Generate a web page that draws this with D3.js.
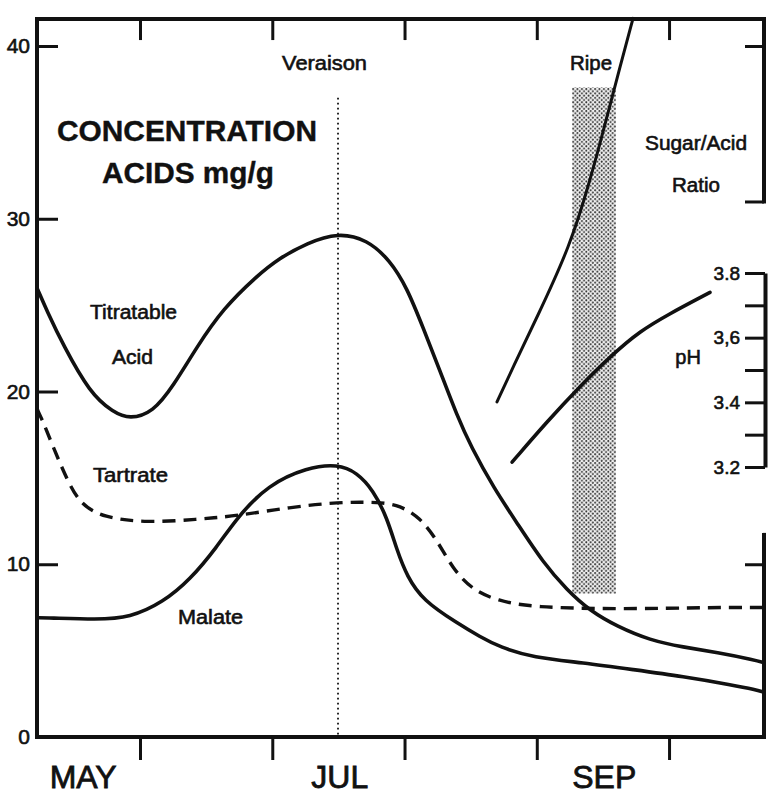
<!DOCTYPE html>
<html><head><meta charset="utf-8">
<script src="https://cdn.jsdelivr.net/npm/d3@7"></script>
<style>
html,body{margin:0;padding:0;background:#fff;}
svg{display:block;font-family:"Liberation Sans",Arial,Helvetica,sans-serif;}
</style></head><body>
<svg id="chart" width="774" height="796"></svg>
<script>
// x unit: months after May 1 (1 = Jun 1, 2 = Jul 1, 3 = Aug 1, 4 = Sep 1, 5 = Oct 1)
const monthTicks = [1, 2, 3, 4, 5];
const monthLabels = ["MAY", "JUL", "SEP"];
const monthLabelPos = [0.57, 2.51, 4.51];

const acidTicks = [0, 10, 20, 30, 40];
const phTicks = [3.2, 3.3, 3.4, 3.5, 3.6, 3.7, 3.8];
const phLabelValues = [3.2, 3.4, 3.6, 3.8];
const phLabelTexts = ["3.2", "3.4", "3,6", "3.8"];

// Titratable acid (mg/g)
const titratableMonth = [0.221, 0.300, 0.418, 0.622, 0.796, 0.924, 1.098, 1.250, 1.431, 1.628, 1.885, 2.050, 2.263, 2.497, 2.716, 2.890, 3.019, 3.140, 3.268, 3.397, 3.503, 3.676, 3.858, 4.047, 4.229, 4.403, 4.607, 4.856, 5.106, 5.363, 5.650, 5.718];
const titratableValue = [26.0, 24.6, 22.7, 19.9, 18.8, 18.4, 18.8, 20.3, 22.6, 24.8, 26.7, 27.7, 28.6, 29.2, 28.8, 27.6, 26.0, 23.7, 21.2, 18.6, 16.8, 14.4, 12.3, 10.1, 8.5, 7.3, 6.4, 5.6, 5.2, 4.9, 4.45, 4.3];

// Tartrate (mg/g)
const tartrateMonth = [0.221, 0.270, 0.342, 0.448, 0.546, 0.720, 1.053, 1.431, 1.733, 2.134, 2.497, 2.815, 2.966, 3.117, 3.246, 3.367, 3.518, 3.699, 3.972, 4.607, 5.363, 5.650, 5.718];
const tartrateValue = [19.0, 18.2, 16.8, 14.9, 13.5, 12.7, 12.4, 12.6, 12.8, 13.3, 13.6, 13.6, 13.4, 12.7, 11.4, 9.7, 8.5, 7.9, 7.5, 7.4, 7.5, 7.5, 7.5];

// Malate (mg/g)
const malateMonth = [0.221, 0.300, 0.675, 0.924, 1.174, 1.378, 1.582, 1.733, 1.968, 2.263, 2.497, 2.641, 2.762, 2.868, 2.943, 3.019, 3.140, 3.397, 3.571, 3.722, 3.972, 4.350, 4.728, 5.106, 5.484, 5.650, 5.718];
const malateValue = [6.9, 6.9, 6.8, 6.9, 7.8, 9.1, 11.0, 12.7, 14.6, 15.6, 15.8, 15.3, 14.3, 12.7, 10.8, 9.3, 7.9, 6.6, 5.8, 5.2, 4.6, 4.3, 3.9, 3.5, 3.0, 2.75, 2.6];

// Sugar/Acid ratio (drawn on the frame's vertical units)
const ratioMonth = [3.699, 3.820, 4.002, 4.251, 4.403, 4.531, 4.629, 4.728];
const ratioValue = [19.4, 21.4, 24.3, 28.4, 32.2, 35.9, 38.8, 41.6];

// pH
const phMonth = [3.813, 4.077, 4.327, 4.577, 4.781, 4.985, 5.310];
const phValue = [3.215, 3.34, 3.45, 3.55, 3.62, 3.67, 3.74];

// Veraison and ripe period
const veraisonMonth = 2.497;
const veraisonTop = 37.0;
const ripeStart = 4.267, ripeEnd = 4.599, ripeLow = 8.3, ripeHigh = 37.6;

// layout
const xDomain = [0.221, 5.718];
const frameTop = 41.56;
const ratioAxisRange = [31, frameTop];
const ratioAxisTicks = [40, 31];
const lowerRightRange = [0, 11.7];

const svg = d3.select("#chart");
const x = d3.scaleLinear().domain(xDomain).range([37, 764]);
const y = d3.scaleLinear().domain([0, 40]).range([737, 46]);
const yPH = d3.scaleLinear().domain([3.2, 3.8]).range([467, 273]);

const ink = "#111";

// halftone pattern
const defs = svg.append("defs");
const pat = defs.append("pattern").attr("id", "dots").attr("patternUnits", "userSpaceOnUse")
  .attr("width", 4.4).attr("height", 4.4);
pat.append("rect").attr("width", 4.4).attr("height", 4.4).attr("fill", "#f2f2f2");
pat.append("circle").attr("cx", 1.1).attr("cy", 1.1).attr("r", 1.0).attr("fill", "#333");
pat.append("circle").attr("cx", 3.3).attr("cy", 3.3).attr("r", 1.0).attr("fill", "#333");

// ripe band
svg.append("rect")
  .attr("x", x(ripeStart)).attr("y", y(ripeHigh))
  .attr("width", x(ripeEnd) - x(ripeStart)).attr("height", y(ripeLow) - y(ripeHigh))
  .attr("fill", "url(#dots)");

// veraison dotted line
svg.append("line")
  .attr("x1", x(veraisonMonth)).attr("x2", x(veraisonMonth))
  .attr("y1", y(veraisonTop)).attr("y2", y(0))
  .attr("stroke", ink).attr("stroke-width", 1.8).attr("stroke-dasharray", "1.6 3.4");

// frame: top, left, bottom
const frame = svg.append("g").attr("stroke", ink).attr("stroke-width", 4).attr("stroke-linecap", "square").attr("fill", "none");
frame.append("line").attr("x1", x(xDomain[0])).attr("x2", x(xDomain[1])).attr("y1", y(frameTop)).attr("y2", y(frameTop));
frame.append("line").attr("x1", x(xDomain[0])).attr("x2", x(xDomain[0])).attr("y1", y(frameTop)).attr("y2", y(0));
frame.append("line").attr("x1", x(xDomain[0])).attr("x2", x(xDomain[1])).attr("y1", y(0)).attr("y2", y(0));
frame.append("line").attr("x1", x(xDomain[1])).attr("x2", x(xDomain[1])).attr("y1", y(ratioAxisRange[1])).attr("y2", y(ratioAxisRange[0]));
frame.append("line").attr("x1", x(xDomain[1])).attr("x2", x(xDomain[1])).attr("y1", y(lowerRightRange[1])).attr("y2", y(lowerRightRange[0]));

function styleAxis(g, fs) {
  g.select(".domain").remove();
  g.selectAll(".tick line").attr("stroke", ink).attr("stroke-width", 3);
  g.selectAll(".tick text").attr("fill", ink).attr("stroke", ink).attr("stroke-width", 0.6)
    .attr("font-size", fs).attr("font-family", "Liberation Sans, Arial, sans-serif");
}

svg.append("g").attr("transform", `translate(0,${y(0)})`)
  .call(d3.axisBottom(x).tickValues(monthTicks).tickSize(23).tickFormat(""))
  .call(g => styleAxis(g, 0));
svg.append("g").attr("transform", `translate(0,${y(frameTop)})`)
  .call(d3.axisBottom(x).tickValues(monthTicks).tickSize(21).tickFormat(""))
  .call(g => styleAxis(g, 0));
svg.append("g").attr("transform", `translate(${x(xDomain[0])},0)`)
  .call(d3.axisLeft(y).tickValues(acidTicks).tickSize(-21).tickPadding(7).tickFormat(d3.format("d")))
  .call(g => styleAxis(g, 21))
  .call(g => g.selectAll(".tick").filter(d => d === 0).select("line").remove());
svg.append("g").attr("transform", `translate(${x(xDomain[1])},0)`)
  .call(d3.axisLeft(y).tickValues(ratioAxisTicks).tickSize(19).tickFormat(""))
  .call(g => styleAxis(g, 0));
svg.append("g").attr("transform", `translate(${x(xDomain[1])},0)`)
  .call(d3.axisLeft(y).tickValues([10]).tickSize(19).tickFormat(""))
  .call(g => styleAxis(g, 0));
const phAxis = svg.append("g").attr("transform", `translate(${x(xDomain[1]) + 1},0)`)
  .call(d3.axisLeft(yPH).tickValues(phTicks).tickSize(20).tickSizeOuter(0).tickPadding(5)
    .tickFormat(d => { const i = phLabelValues.findIndex(v => Math.abs(v - d) < 1e-6); return i >= 0 ? phLabelTexts[i] : ""; }));
phAxis.select(".domain").attr("stroke", ink).attr("stroke-width", 4);
phAxis.selectAll(".tick line").attr("stroke", ink).attr("stroke-width", 3);
phAxis.selectAll(".tick text").attr("fill", ink).attr("stroke", ink).attr("stroke-width", 0.6)
  .attr("font-size", 19).attr("font-family", "Liberation Sans, Arial, sans-serif");

// month labels
svg.append("g").selectAll("text").data(monthLabels).join("text")
  .attr("x", (d, i) => x(monthLabelPos[i])).attr("y", 788)
  .attr("text-anchor", "middle").attr("font-size", 32).attr("fill", ink)
  .attr("stroke", ink).attr("stroke-width", 0.8).text(d => d);

// curves
const mk = (ms, vs) => ms.map((m, i) => [m, vs[i]]);
const line = d3.line().x(d => x(d[0])).y(d => y(d[1])).curve(d3.curveBasis);
const linePH = d3.line().x(d => x(d[0])).y(d => yPH(d[1])).curve(d3.curveBasis);

svg.append("path").datum(mk(titratableMonth, titratableValue)).attr("d", line)
  .attr("fill", "none").attr("stroke", ink).attr("stroke-width", 3.6);
svg.append("path").datum(mk(malateMonth, malateValue)).attr("d", line)
  .attr("fill", "none").attr("stroke", ink).attr("stroke-width", 3.6);
svg.append("path").datum(mk(tartrateMonth, tartrateValue)).attr("d", line)
  .attr("fill", "none").attr("stroke", ink).attr("stroke-width", 3.4).attr("stroke-dasharray", "13 8");
svg.append("path").datum(mk(ratioMonth, ratioValue)).attr("d", line)
  .attr("fill", "none").attr("stroke", ink).attr("stroke-width", 3).attr("stroke-linecap", "round");
svg.append("path").datum(mk(phMonth, phValue)).attr("d", linePH)
  .attr("fill", "none").attr("stroke", ink).attr("stroke-width", 3.6).attr("stroke-linecap", "round");

// annotations [text, month, value, size, weight, width]
const notes = [
  ["Titratable", 0.951, 24.2, 20, "normal", 87],
  ["Acid", 0.943, 21.6, 20, "normal", 41],
  ["Tartrate", 0.928, 14.76, 20, "normal", 75],
  ["Malate", 1.533, 6.54, 20, "normal", 65],
  ["Veraison", 2.395, 38.6, 20, "normal", 85],
  ["Ripe", 4.41, 38.6, 20, "normal", 42],
  ["Sugar/Acid", 5.204, 33.98, 20, "normal", 102],
  ["Ratio", 5.204, 31.55, 20, "normal", 48],
  ["CONCENTRATION", 1.355, 34.5, 30, "bold", 260],
  ["ACIDS mg/g", 1.362, 32.07, 30, "bold", 172]
];
svg.append("g").selectAll("text").data(notes).join("text")
  .attr("x", d => x(d[1])).attr("y", d => y(d[2]))
  .attr("text-anchor", "middle").attr("font-size", d => d[3]).attr("font-weight", d => d[4])
  .attr("textLength", d => d[5]).attr("lengthAdjust", "spacingAndGlyphs")
  .attr("fill", ink).attr("stroke", ink).attr("stroke-width", d => d[4] === "bold" ? 0.4 : 0.6)
  .text(d => d[0]);
svg.append("text").attr("x", x(5.144)).attr("y", yPH(3.52)).attr("text-anchor", "middle")
  .attr("font-size", 20).attr("fill", ink).attr("stroke", ink).attr("stroke-width", 0.6).text("pH");
</script>
</body></html>
